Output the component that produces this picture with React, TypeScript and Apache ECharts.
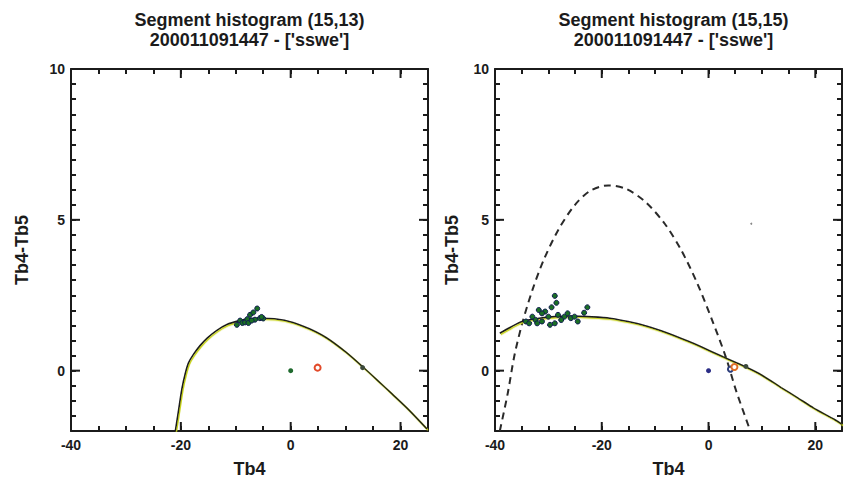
import React, { useEffect, useRef } from "react";
import * as echarts from "echarts";

// ---- axis ranges and tick values ----
const X_MIN = -40;
const X_MAX = 25;
const Y_MIN = -2;
const Y_MAX = 10;
const xMajor = [-40, -20, 0, 20];
const yMajor = [0, 5, 10];

// ---- data ----
const leftCurveX = [-21.0, -20.4, -19.8, -19.2, -18.6, -17.7, -16.5, -15.2, -13.5, -11.6, -9.5, -7.5, -5.6, -3.0, 0.4, 3.5, 6.5, 10.0, 13.1, 15.8, 18.5, 21.5, 24.8];
const leftCurveY = [-2.0, -1.3, -0.6, -0.1, 0.26, 0.54, 0.83, 1.08, 1.33, 1.53, 1.65, 1.72, 1.74, 1.72, 1.6, 1.38, 1.09, 0.62, 0.13, -0.32, -0.78, -1.3, -1.93];

const leftClusterX = [-9.8, -9.2, -8.8, -8.3, -7.9, -7.7, -7.4, -6.8, -6.5, -6.1, -5.6, -5.0, -7.1, -5.3];
const leftClusterY = [1.52, 1.66, 1.58, 1.6, 1.71, 1.58, 1.85, 1.93, 1.69, 2.06, 1.74, 1.73, 1.66, 1.78];

const leftDotX = [0];
const leftDotY = [0];
const leftRingX = [4.9];
const leftRingY = [0.1];
const leftOnCurveX = [13.1];
const leftOnCurveY = [0.1];

const rightCurveX = [-39.1, -37.0, -34.9, -32.0, -28.8, -25.5, -22.7, -18.5, -13.6, -10.6, -7.6, -3.9, -1.5, 2.7, 7.0, 10.0, 13.6, 16.7, 19.7, 23.6, 25.0];
const rightCurveY = [1.24, 1.45, 1.63, 1.73, 1.79, 1.81, 1.79, 1.74, 1.57, 1.42, 1.24, 0.98, 0.8, 0.46, 0.12, -0.15, -0.56, -0.9, -1.24, -1.62, -1.78];

const rightDashX = [-39.1, -37.6, -36.4, -34.9, -33.0, -30.9, -28.2, -25.1, -22.1, -18.8, -15.5, -11.8, -8.2, -5.1, -2.1, 0.9, 3.3, 5.1, 7.6, 7.8];
const rightDashY = [-2.0, -0.74, 0.47, 1.57, 2.67, 3.66, 4.65, 5.48, 5.97, 6.14, 6.03, 5.59, 4.87, 3.99, 2.89, 1.57, 0.42, -0.63, -1.89, -2.0];

const rightClusterX = [-28.8, -28.5, -29.4, -22.7, -23.3, -31.8, -30.6, -33.0, -32.4, -31.2, -34.2, -33.6, -30.0, -28.2, -27.0, -25.8, -24.5, -28.8, -27.6, -31.2, -26.4, -25.1, -32.1, -29.7];
const rightClusterY = [2.48, 2.25, 2.1, 2.1, 1.92, 2.01, 1.96, 1.79, 1.68, 1.63, 1.63, 1.57, 1.79, 1.85, 1.79, 1.74, 1.63, 1.57, 1.68, 1.9, 1.9, 1.79, 1.57, 1.52];

const rightDotX = [0];
const rightDotY = [0];
const rightSmallRingX = [4.1];
const rightSmallRingY = [0.05];
const rightRingX = [4.85];
const rightRingY = [0.12];
const rightOnCurveX = [7.0];
const rightOnCurveY = [0.14];
const rightSpeckX = [8.0];
const rightSpeckY = [4.87];

const titlesLine1 = ["Segment histogram (15,13)", "Segment histogram (15,15)"];
const titleLine2 = "200011091447 - ['sswe']";
const xName = "Tb4";
const yName = "Tb4-Tb5";

const zip = (xs: number[], ys: number[]) => xs.map((x, i) => [x, ys[i]]);

const FONT = "'Liberation Sans', Arial, Helvetica, sans-serif";
const INK = "#1b1b1b";

export default function App() {
  const ref = useRef<HTMLDivElement>(null);
  useEffect(() => {
    if (!ref.current) return;
    const chart = echarts.init(ref.current, undefined, { renderer: "svg" });

    const labelStyle = {
      color: INK,
      fontFamily: FONT,
      fontWeight: "bold" as const,
      fontSize: 14,
    };

    const grids = [0, 1].map((gi) => ({
      left: gi === 0 ? 71 : 495,
      top: 69,
      width: 357,
      height: 362,
    }));

    const frameLine = { color: INK, width: 2 };
    const tick = { show: true, inside: true, length: 5, lineStyle: { color: INK, width: 2 } };

    const xAxes: any[] = [];
    const yAxes: any[] = [];
    [0, 1].forEach((gi) => {
      xAxes.push({
        gridIndex: gi,
        type: "value",
        position: "bottom",
        min: X_MIN,
        max: X_MAX,
        interval: 5,
        axisLine: { show: true, onZero: false, lineStyle: frameLine },
        axisTick: tick,
        axisLabel: {
          show: true,
          formatter: (v: number) => (xMajor.includes(v) ? String(v) : ""),
          margin: 7,
          ...labelStyle,
        },
        splitLine: { show: false },
        name: xName,
        nameLocation: "middle",
        nameGap: 29,
        nameTextStyle: { ...labelStyle, fontSize: 18 },
      });
      xAxes.push({
        gridIndex: gi,
        type: "value",
        position: "top",
        min: X_MIN,
        max: X_MAX,
        interval: 5,
        axisLine: { show: true, onZero: false, lineStyle: frameLine },
        axisTick: tick,
        axisLabel: { show: false },
        splitLine: { show: false },
      });
      yAxes.push({
        gridIndex: gi,
        type: "value",
        position: "left",
        min: Y_MIN,
        max: Y_MAX,
        interval: 0.5,
        axisLine: { show: true, onZero: false, lineStyle: frameLine },
        axisTick: tick,
        axisLabel: {
          show: true,
          formatter: (v: number) => (yMajor.includes(v) ? String(v) : ""),
          margin: 6,
          ...labelStyle,
        },
        splitLine: { show: false },
        name: yName,
        nameLocation: "middle",
        nameGap: gi === 0 ? 40 : 34,
        nameTextStyle: { ...labelStyle, fontSize: 18 },
      });
      yAxes.push({
        gridIndex: gi,
        type: "value",
        position: "right",
        min: Y_MIN,
        max: Y_MAX,
        interval: 0.5,
        axisLine: { show: true, onZero: false, lineStyle: frameLine },
        axisTick: tick,
        axisLabel: { show: false },
        splitLine: { show: false },
      });
    });

    // longer marks at the labelled values, placed through the axes' scales
    const majorTickSeries = (xi: number, yi: number) => {
      const base = {
        type: "scatter",
        xAxisIndex: xi,
        yAxisIndex: yi,
        symbol: "rect",
        silent: true,
        clip: false,
        z: 6,
        itemStyle: { color: INK, opacity: 1 },
      };
      return [
        { ...base, data: xMajor.map((v) => [v, Y_MIN]), symbolSize: [2, 9], symbolOffset: [0, -4.5] },
        { ...base, data: xMajor.map((v) => [v, Y_MAX]), symbolSize: [2, 9], symbolOffset: [0, 4.5] },
        { ...base, data: yMajor.map((v) => [X_MIN, v]), symbolSize: [9, 2], symbolOffset: [4.5, 0] },
        { ...base, data: yMajor.map((v) => [X_MAX, v]), symbolSize: [9, 2], symbolOffset: [-4.5, 0] },
      ];
    };

    const curveStyle = {
      color: INK,
      width: 1.6,
      shadowColor: "#c9d41a",
      shadowBlur: 0,
      shadowOffsetX: 1,
      shadowOffsetY: 1.2,
    };

    const clusterItem = {
      color: "#1a6f24",
      borderColor: "#101a52",
      borderWidth: 1,
      opacity: 1,
    };

    const L = { xAxisIndex: 0, yAxisIndex: 0 };
    const R = { xAxisIndex: 2, yAxisIndex: 2 };

    const series: any[] = [
      ...majorTickSeries(0, 0),
      ...majorTickSeries(2, 2),
      // left panel
      { type: "line", ...L, data: zip(leftCurveX, leftCurveY), showSymbol: false, smooth: 0.25, lineStyle: curveStyle, z: 2 },
      { type: "scatter", ...L, data: zip(leftClusterX, leftClusterY), symbolSize: 5, itemStyle: clusterItem, z: 3 },
      { type: "scatter", ...L, data: zip(leftDotX, leftDotY), symbolSize: 5, itemStyle: { color: "#1f6a2e", opacity: 1 }, z: 3 },
      { type: "scatter", ...L, data: zip(leftRingX, leftRingY), symbol: "emptyCircle", symbolSize: 6, itemStyle: { color: "#e24a2a", borderWidth: 1.5, opacity: 1 }, z: 3 },
      { type: "scatter", ...L, data: zip(leftOnCurveX, leftOnCurveY), symbolSize: 5, itemStyle: { color: "#3c4a3c", opacity: 1 }, z: 3 },
      // right panel
      { type: "line", ...R, data: zip(rightDashX, rightDashY), showSymbol: false, smooth: 0.3, lineStyle: { color: "#2a2a2a", width: 2, type: [7, 5] }, z: 2 },
      { type: "line", ...R, data: zip(rightCurveX, rightCurveY), showSymbol: false, smooth: 0.25, lineStyle: curveStyle, z: 2 },
      { type: "scatter", ...R, data: zip(rightClusterX, rightClusterY), symbolSize: 5, itemStyle: clusterItem, z: 3 },
      { type: "scatter", ...R, data: zip(rightDotX, rightDotY), symbolSize: 5, itemStyle: { color: "#2b2d86", opacity: 1 }, z: 3 },
      { type: "scatter", ...R, data: zip(rightSmallRingX, rightSmallRingY), symbol: "emptyCircle", symbolSize: 5, itemStyle: { color: "#2b3c7a", borderWidth: 1.2, opacity: 1 }, z: 3 },
      { type: "scatter", ...R, data: zip(rightRingX, rightRingY), symbol: "emptyCircle", symbolSize: 6, itemStyle: { color: "#e0702a", borderWidth: 1.5, opacity: 1 }, z: 3 },
      { type: "scatter", ...R, data: zip(rightOnCurveX, rightOnCurveY), symbolSize: 5, itemStyle: { color: "#3c4a3c", opacity: 1 }, z: 3 },
      { type: "scatter", ...R, data: zip(rightSpeckX, rightSpeckY), symbolSize: 2, itemStyle: { color: "#888", opacity: 1 }, z: 3 },
    ];

    const centers = [71 + 357 / 2, 495 + 357 / 2];
    const graphic: any[] = [];
    centers.forEach((cx, i) => {
      graphic.push({
        type: "text",
        x: cx,
        y: 11,
        style: { text: titlesLine1[i], textAlign: "center", textVerticalAlign: "top", fill: INK, font: `bold 18px ${FONT}` },
      });
      graphic.push({
        type: "text",
        x: cx,
        y: 31,
        style: { text: titleLine2, textAlign: "center", textVerticalAlign: "top", fill: INK, font: `bold 18px ${FONT}` },
      });
    });

    chart.setOption({
      animation: false,
      backgroundColor: "#ffffff",
      grid: grids,
      xAxis: xAxes,
      yAxis: yAxes,
      series,
      graphic,
    });
    return () => chart.dispose();
  }, []);

  return (
    <div
      ref={ref}
      style={{ position: "fixed", left: 0, top: 0, width: 845, height: 493, background: "#fff" }}
    />
  );
}
